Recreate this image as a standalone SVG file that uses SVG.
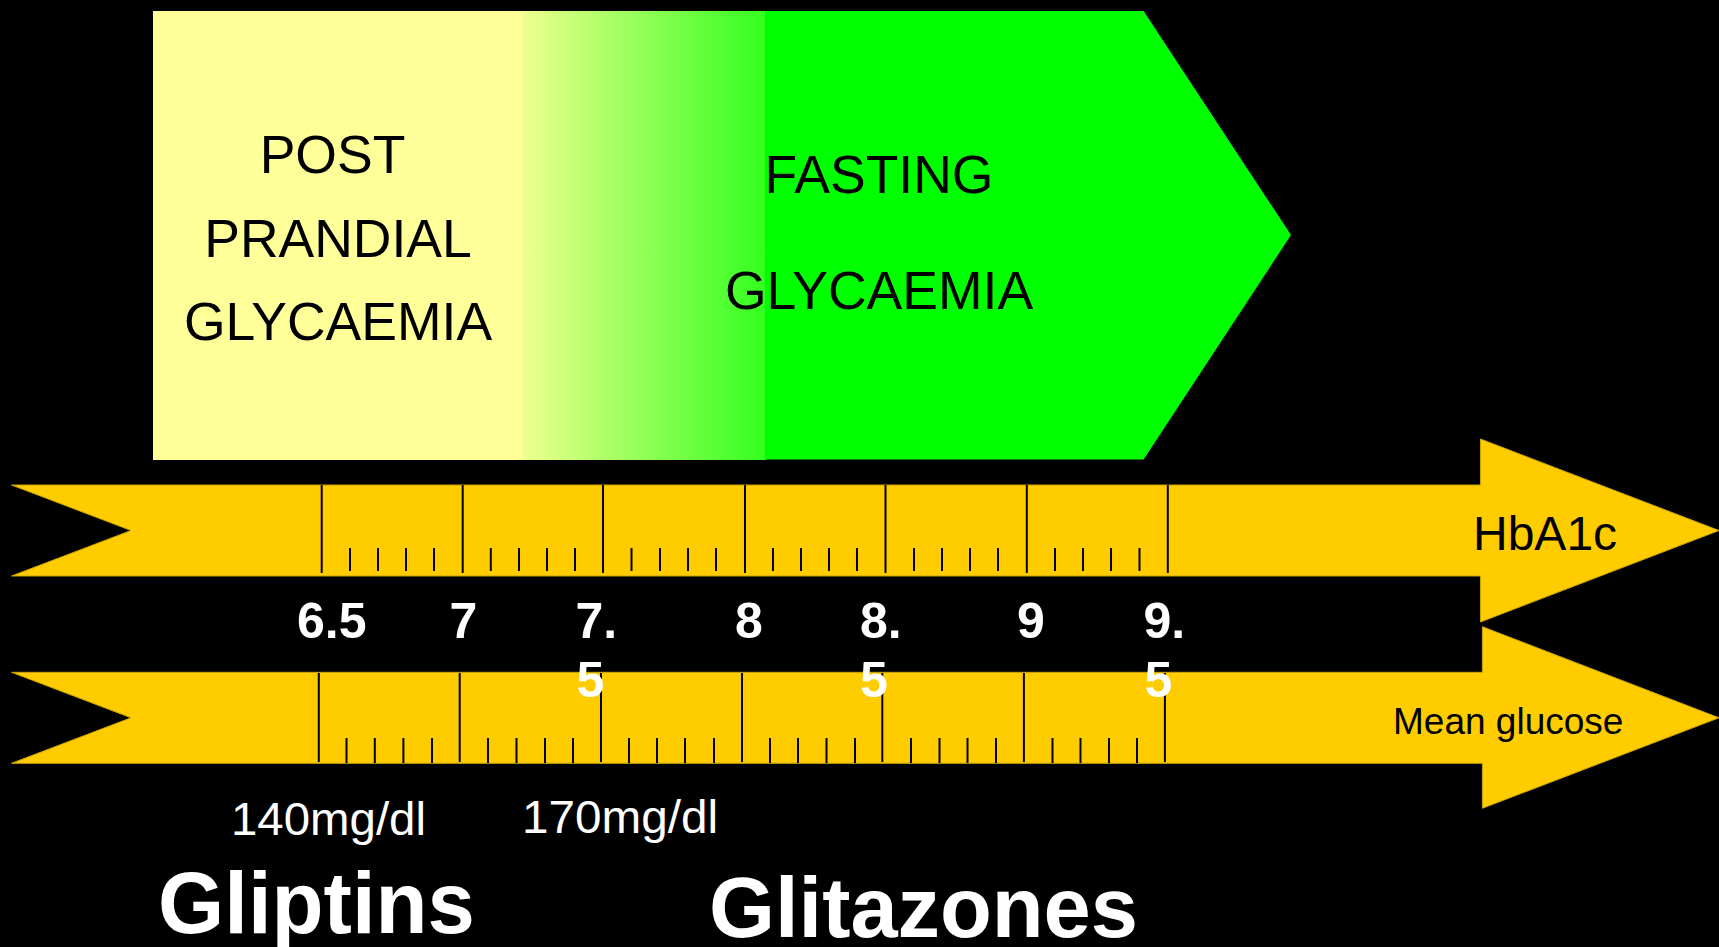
<svg xmlns="http://www.w3.org/2000/svg" width="1719" height="947" viewBox="0 0 1719 947">
<defs>
<linearGradient id="gy" gradientUnits="userSpaceOnUse" x1="501" y1="0" x2="831" y2="0">
<stop offset="0" stop-color="#FFFF99"/>
<stop offset="1" stop-color="#00FF00"/>
</linearGradient>
<style>
.ruler{fill:#FFCC00;stroke:#C9A200;stroke-width:1}
.maj{stroke:#000;stroke-width:2}
.min{stroke:#000;stroke-width:2}
.box{font-family:"Liberation Sans",Arial,sans-serif;font-size:53.5px;fill:#000;text-anchor:middle}
.num{font-family:"Liberation Sans",Arial,sans-serif;font-size:50px;font-weight:bold;fill:#fff}
.lbl{font-family:"Liberation Sans",Arial,sans-serif;fill:#000}
.mg{font-family:"Liberation Sans",Arial,sans-serif;font-size:46px;fill:#fff}
.drug{font-family:"Liberation Sans",Arial,sans-serif;font-weight:bold;fill:#fff}
</style>
</defs>
<rect x="0" y="0" width="1719" height="947" fill="#000"/>

<g id="glycaemia-box">
<rect x="153" y="11" width="371" height="449" fill="#FFFF99"/>
<rect x="523" y="11" width="243" height="449" fill="url(#gy)"/>
<polygon points="765,11 1143.6,11 1291,235 1143.6,459.5 765,459.5" fill="#00FF00"/>
<text class="box" x="332.5" y="173.3">POST</text>
<text class="box" x="338" y="256.7">PRANDIAL</text>
<text class="box" x="338" y="340">GLYCAEMIA</text>
<text class="box" x="879" y="192.7">FASTING</text>
<text class="box" x="879" y="309.3">GLYCAEMIA</text>
</g>

<g id="hba1c-ruler">
<polygon class="ruler" points="11.5,485 1480.5,485 1480.5,439 1719,530.5 1480.5,622 1480.5,576 11.5,576 131,530.5"/>
<g>
<line class="maj" x1="321.7" y1="485" x2="321.7" y2="573"/>
<line class="maj" x1="462.7" y1="485" x2="462.7" y2="573" stroke-width="3"/>
<line class="maj" x1="603" y1="485" x2="603" y2="573"/>
<line class="maj" x1="745" y1="485" x2="745" y2="573"/>
<line class="maj" x1="885.5" y1="485" x2="885.5" y2="573"/>
<line class="maj" x1="1026.8" y1="485" x2="1026.8" y2="573"/>
<line class="maj" x1="1167.8" y1="485" x2="1167.8" y2="573"/>
</g>
<g>
<line class="min" x1="350" y1="548" x2="350" y2="571"/>
<line class="min" x1="378" y1="548" x2="378" y2="571"/>
<line class="min" x1="406" y1="548" x2="406" y2="571"/>
<line class="min" x1="434" y1="548" x2="434" y2="571"/>
<line class="min" x1="490.8" y1="548" x2="490.8" y2="571"/>
<line class="min" x1="519" y1="548" x2="519" y2="571"/>
<line class="min" x1="547" y1="548" x2="547" y2="571"/>
<line class="min" x1="575" y1="548" x2="575" y2="571"/>
<line class="min" x1="631.5" y1="548" x2="631.5" y2="571"/>
<line class="min" x1="660" y1="548" x2="660" y2="571"/>
<line class="min" x1="688" y1="548" x2="688" y2="571"/>
<line class="min" x1="716" y1="548" x2="716" y2="571"/>
<line class="min" x1="773" y1="548" x2="773" y2="571"/>
<line class="min" x1="801" y1="548" x2="801" y2="571"/>
<line class="min" x1="829" y1="548" x2="829" y2="571"/>
<line class="min" x1="857" y1="548" x2="857" y2="571"/>
<line class="min" x1="914" y1="548" x2="914" y2="571"/>
<line class="min" x1="942" y1="548" x2="942" y2="571"/>
<line class="min" x1="970" y1="548" x2="970" y2="571"/>
<line class="min" x1="998" y1="548" x2="998" y2="571"/>
<line class="min" x1="1055" y1="548" x2="1055" y2="571"/>
<line class="min" x1="1083" y1="548" x2="1083" y2="571"/>
<line class="min" x1="1111" y1="548" x2="1111" y2="571"/>
<line class="min" x1="1139.5" y1="548" x2="1139.5" y2="571"/>
</g>
<text class="lbl" x="1473" y="550" font-size="48">HbA1c</text>
</g>

<g id="glucose-ruler">
<polygon class="ruler" points="11.5,672.3 1482.4,672.3 1482.4,626.7 1719,717.8 1482.4,808.3 1482.4,763.3 11.5,763.3 131,717.8"/>
<g>
<line class="maj" x1="318.8" y1="673" x2="318.8" y2="762"/>
<line class="maj" x1="459.7" y1="673" x2="459.7" y2="762"/>
<line class="maj" x1="601" y1="673" x2="601" y2="762"/>
<line class="maj" x1="742" y1="673" x2="742" y2="762"/>
<line class="maj" x1="882.3" y1="673" x2="882.3" y2="762"/>
<line class="maj" x1="1023.9" y1="673" x2="1023.9" y2="762"/>
<line class="maj" x1="1164.9" y1="673" x2="1164.9" y2="762"/>
</g>
<g>
<line class="min" x1="346.5" y1="738" x2="346.5" y2="763"/>
<line class="min" x1="374.8" y1="738" x2="374.8" y2="763"/>
<line class="min" x1="403.4" y1="738" x2="403.4" y2="763"/>
<line class="min" x1="432" y1="738" x2="432" y2="763"/>
<line class="min" x1="488" y1="738" x2="488" y2="763"/>
<line class="min" x1="516.5" y1="738" x2="516.5" y2="763"/>
<line class="min" x1="545" y1="738" x2="545" y2="763"/>
<line class="min" x1="573" y1="738" x2="573" y2="763"/>
<line class="min" x1="629" y1="738" x2="629" y2="763"/>
<line class="min" x1="657" y1="738" x2="657" y2="763"/>
<line class="min" x1="685" y1="738" x2="685" y2="763"/>
<line class="min" x1="714" y1="738" x2="714" y2="763"/>
<line class="min" x1="770" y1="738" x2="770" y2="763"/>
<line class="min" x1="798" y1="738" x2="798" y2="763"/>
<line class="min" x1="826.5" y1="738" x2="826.5" y2="763"/>
<line class="min" x1="855" y1="738" x2="855" y2="763"/>
<line class="min" x1="911" y1="738" x2="911" y2="763"/>
<line class="min" x1="939.5" y1="738" x2="939.5" y2="763"/>
<line class="min" x1="967.5" y1="738" x2="967.5" y2="763"/>
<line class="min" x1="996" y1="738" x2="996" y2="763"/>
<line class="min" x1="1052.5" y1="738" x2="1052.5" y2="763"/>
<line class="min" x1="1080.5" y1="738" x2="1080.5" y2="763"/>
<line class="min" x1="1109" y1="738" x2="1109" y2="763"/>
<line class="min" x1="1137" y1="738" x2="1137" y2="763"/>
</g>
<text class="lbl" x="1393" y="734.3" font-size="37">Mean glucose</text>
</g>

<g id="scale-labels">
<text class="num" x="297" y="637.7">6.5</text>
<text class="num" x="449.5" y="637.7">7</text>
<text class="num" x="575.5" y="637.7">7.</text>
<text class="num" x="576.5" y="696.7">5</text>
<text class="num" x="735" y="637.7">8</text>
<text class="num" x="860" y="637.7">8.</text>
<text class="num" x="860" y="696.7">5</text>
<text class="num" x="1017" y="637.7">9</text>
<text class="num" x="1143.5" y="637.7">9.</text>
<text class="num" x="1144.5" y="696.7">5</text>
</g>

<g id="glucose-values">
<text class="mg" x="231" y="835" textLength="195" lengthAdjust="spacingAndGlyphs">140mg/dl</text>
<text class="mg" x="522" y="833.3" textLength="196" lengthAdjust="spacingAndGlyphs">170mg/dl</text>
</g>

<g id="drugs">
<text class="drug" x="158" y="933.3" font-size="87" textLength="317" lengthAdjust="spacingAndGlyphs">Gliptins</text>
<text class="drug" x="709" y="937.3" font-size="85" textLength="429" lengthAdjust="spacingAndGlyphs">Glitazones</text>
</g>
</svg>
